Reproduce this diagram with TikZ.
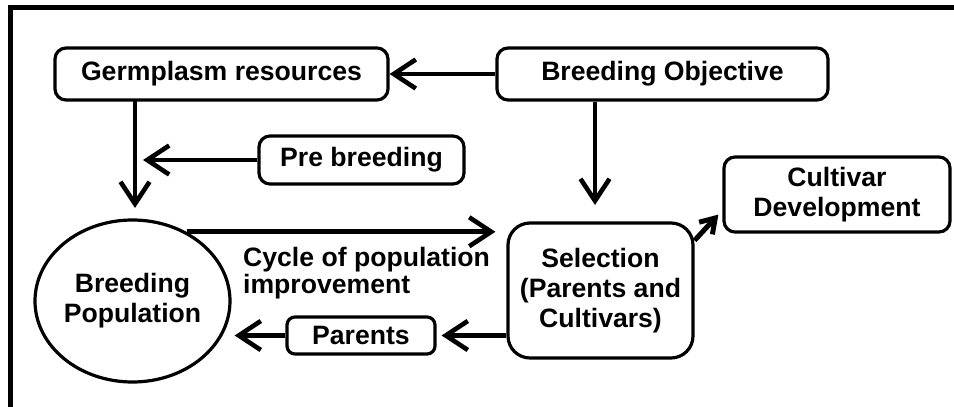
\documentclass[tikz,border=0pt]{standalone}
\usepackage{fontspec}
\setmainfont{Liberation Sans}
\usetikzlibrary{arrows.meta, positioning, calc, shapes.geometric}

\newcommand{\labelfont}{\fontsize{26.6}{30}\selectfont\bfseries}

\begin{document}
\begin{tikzpicture}[x=1pt, y=1pt,
    box/.style={draw, line width=3.2pt, rounded corners=11pt, inner sep=0pt,
                align=center, font=\labelfont},
    arr/.style={line width=4.6pt,
                -{Straight Barb[length=22pt, width=29pt, line width=4.6pt]}},
    every node/.style={font=\labelfont}]
  \useasboundingbox (0,0) rectangle (954,-407);

  % Frame (top and left only)
  \draw[line width=5pt] (10.5,-407) -- (10.5,-7.5) -- (954,-7.5);

  % Boxes
  \node[box, minimum width=333pt, minimum height=52pt] (germ) at (221.5,-74) {Germplasm resources};
  \node[box, minimum width=331pt, minimum height=52pt] (objective) at (662.5,-74) {Breeding Objective};
  \node[box, minimum width=205pt, minimum height=48pt] (prebreed) at (361.5,-160) {Pre breeding};
  \node[box, minimum width=226pt, minimum height=75pt] (cultivar) at (837,-194.5) {Cultivar\\Development};
  \node[box, minimum width=185pt, minimum height=135pt, rounded corners=22pt] (select) at (600.5,-290.5)
    {Selection\\(Parents and\\Cultivars)};
  \node[box, minimum width=148pt, minimum height=37pt, rounded corners=8pt] (parents) at (361,-335.5) {Parents};

  % Breeding population
  \node[draw, ellipse, line width=3.2pt, minimum width=195pt, minimum height=162pt,
        inner sep=0pt, align=center] (pop) at (132.5,-301) {Breeding\\Population};

  % Cycle label
  \node[anchor=base west, align=left, inner sep=0pt,
        font=\fontsize{26.6}{27}\selectfont\bfseries] (cycle) at (243,-293)
    {Cycle of population\\improvement};

  % Connectors
  \coordinate (drop) at (135,-100);
  \draw[arr] (objective.west) -- (germ.east);
  \draw[arr] (drop) -- (135,-208);
  \draw[arr] (prebreed.west) -- ([xshift=8pt]prebreed.west -| drop);
  \draw[arr] (objective.south -| 595,0) -- (595,-205);
  \draw[arr, shorten >=11pt] (pop.52) -- (pop.52 -| select.west);
  \draw[arr, shorten >=5pt] (select.west |- parents.east) -- (parents.east);
  \draw[arr, shorten >=3pt] (parents.west) -- (parents.west -| pop.east);
  \draw[line width=5pt, -{Straight Barb[length=14pt, width=18pt, line width=5pt]}]
    ([yshift=-19pt]select.north east) -- ([xshift=-4pt, yshift=19pt]cultivar.south west);
\end{tikzpicture}
\end{document}
